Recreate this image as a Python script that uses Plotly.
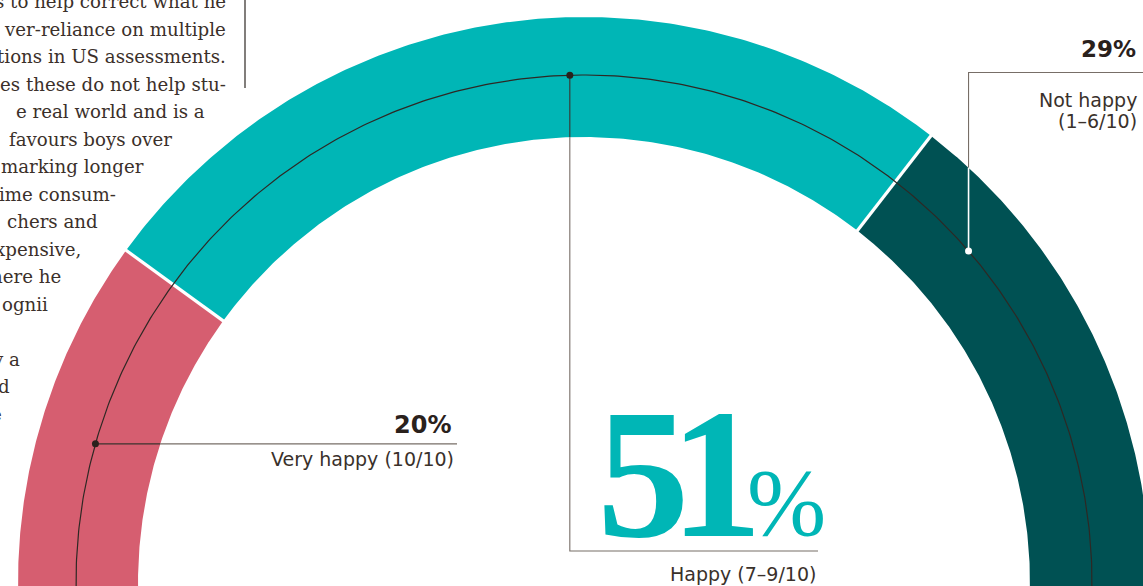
import numpy as np
import plotly.graph_objects as go

# ---- data -------------------------------------------------------------
categories = ["Very happy (10/10)", "Happy (7–9/10)", "Not happy (1–6/10)"]
shares = [20, 51, 29]
share_labels = ["20%", "51%", "29%"]
colors = ["#D65E70", "#00B6B6", "#005153"]

# body copy wrapping around the gauge (text, right edge in px, baseline in px)
article_lines = [
    "s to help correct what he",
    "ver-reliance on multiple",
    "tions in US assessments.",
    "es these do not help stu-",
    "e real world and is a",
    "favours boys over",
    "marking longer",
    "ime consum-",
    "chers and",
    "xpensive,",
    "here he",
    "ognii",
    "y a",
    "d",
    "e",
]
article_right = [228, 228, 228, 228, 207, 174, 146, 118, 100, 83, 63, 50, 22, 12, 4]
article_base = [8, 35.5, 63, 90.5, 118, 145.5, 173, 200.5, 228, 255.5, 283, 310.5,
                365.5, 393, 420.5]

# ---- geometry / style ---------------------------------------------------
W, H = 1143, 586
CX, CY = 584, 583          # gauge centre in page pixels
R_OUT, R_IN, R_GUIDE = 566, 446, 508
TAIL = 1.0                  # degrees the band runs past the baseline
INK = "#2a211c"
TXT = "#3a312b"
RULE = "#776e67"
SANS = "DejaVu Sans"
SERIF = "DejaVu Serif"
DISPLAY = "Liberation Serif"
BODY_SIZE = 18.2


def px(x):
    return x - CX


def py(y):
    return CY - y


def polar(r, deg):
    t = np.radians(deg)
    return r * np.cos(t), r * np.sin(t)


fig = go.Figure()

# band segments, swept clockwise from the left end
total = sum(shares)
edges = [180.0]
for s in shares:
    edges.append(edges[-1] - s / total * 180.0)

for i, (name, col) in enumerate(zip(categories, colors)):
    a0 = edges[i] + (TAIL if i == 0 else 0)
    a1 = edges[i + 1] - (TAIL if i == len(shares) - 1 else 0)
    th = np.linspace(a0, a1, 200)
    xo, yo = polar(R_OUT, th)
    xi, yi = polar(R_IN, th[::-1])
    fig.add_trace(go.Scatter(
        x=np.concatenate([xo, xi, xo[:1]]), y=np.concatenate([yo, yi, yo[:1]]),
        fill="toself", fillcolor=col, mode="lines", line=dict(width=0),
        name=name, hoverinfo="name", showlegend=False))

# white gaps between the segments
for a in edges[1:-1]:
    x0, y0 = polar(R_IN - 3, a)
    x1, y1 = polar(R_OUT + 3, a)
    fig.add_trace(go.Scatter(x=[x0, x1], y=[y0, y1], mode="lines",
                             line=dict(color="white", width=3.2),
                             hoverinfo="skip", showlegend=False))

# thin guide ring through the middle of the band
th = np.linspace(180 + TAIL, -TAIL, 400)
gx, gy = polar(R_GUIDE, th)
fig.add_trace(go.Scatter(x=gx, y=gy, mode="lines", line=dict(color="#2e2824", width=1.2),
                         hoverinfo="skip", showlegend=False))

# leader anchor angles on the guide ring
anchor_deg = [164.1, 91.6, 40.8]
dots = [polar(R_GUIDE, a) for a in anchor_deg]


def seg(xs, ys, color, width=1.1):
    fig.add_trace(go.Scatter(x=xs, y=ys, mode="lines", line=dict(color=color, width=width),
                             hoverinfo="skip", showlegend=False))


# Very happy: horizontal leader to the left label
d0 = dots[0]
x_edge = -np.sqrt(R_IN ** 2 - d0[1] ** 2)
seg([d0[0], x_edge], [d0[1], d0[1]], "#3a332e")
seg([x_edge, px(457)], [d0[1], d0[1]], RULE)

# Happy: vertical leader down to the big figure
d1 = dots[1]
y_edge = np.sqrt(R_IN ** 2 - d1[0] ** 2)
seg([d1[0], d1[0]], [d1[1], y_edge], "#3a332e")
seg([d1[0], d1[0], px(818)], [y_edge, py(551), py(551)], RULE)

# Not happy: leader up to the right label (white while inside the band)
d2 = dots[2]
y_out = np.sqrt(R_OUT ** 2 - d2[0] ** 2)
seg([d2[0], d2[0], px(1143)], [y_out, py(72.5), py(72.5)], RULE)
seg([d2[0], d2[0]], [d2[1], y_out], "white", 1.6)

fig.add_trace(go.Scatter(
    x=[d[0] for d in dots], y=[d[1] for d in dots], mode="markers",
    marker=dict(size=7, color=[INK, INK, "white"], line=dict(width=0)),
    hoverinfo="skip", showlegend=False))

# ---- labels -----------------------------------------------------------
ann = []


def label(text, x, y, size, color, family=SANS, anchor="right", weight="normal"):
    ann.append(dict(text=text, x=px(x), y=py(y), xref="x", yref="y", showarrow=False,
                    xanchor=anchor, yanchor="middle",
                    font=dict(family=family, size=size, color=color, weight=weight)))


label(share_labels[0], 453, 424.5, 24, INK, weight="bold")
label(categories[0], 456, 458.5, 19, TXT)

big = share_labels[1]
label(big[0], 643, 473, 185, colors[1], family=DISPLAY, anchor="center", weight="bold")
label(big[1], 716, 473, 185, colors[1], family=DISPLAY, anchor="center", weight="bold")
label(big[2], 786, 503, 95, colors[1], family=DISPLAY, anchor="center")
label(categories[1], 818, 573.5, 19, TXT)

label(share_labels[2], 1138, 48.5, 23, INK, weight="bold")
not_name, not_range = categories[2].split(" (")
label(not_name, 1139, 99.5, 19, TXT)
label("(" + not_range, 1139, 120.5, 19, TXT)

for line, xr, yb in zip(article_lines, article_right, article_base):
    label(line, xr, yb - 0.345 * BODY_SIZE, BODY_SIZE, "#3b302a", family=SERIF)

# column rule beside the body copy
seg([px(245), px(245)], [py(0), py(88)], "#2e2824", 1.2)

fig.update_layout(
    width=W, height=H,
    margin=dict(l=0, r=0, t=0, b=0),
    paper_bgcolor="white", plot_bgcolor="white",
    xaxis=dict(range=[px(0), px(W)], visible=False, fixedrange=True),
    yaxis=dict(range=[py(H), py(0)], visible=False, fixedrange=True),
    annotations=ann,
    showlegend=False,
)

fig.write_html("out.html")
